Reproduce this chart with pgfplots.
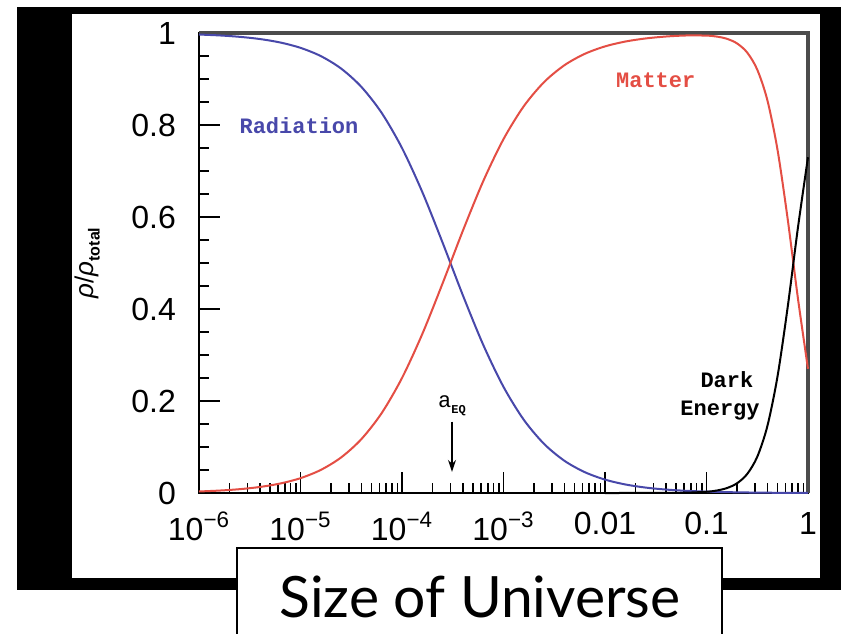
\documentclass[border=0pt]{standalone}
\usepackage{fontspec}
\usepackage{pgfplots}
\pgfplotsset{compat=1.18}
\usetikzlibrary{arrows.meta}
\setmainfont{Liberation Sans}
\newfontfamily\monob{Liberation Mono}
\newfontfamily\titlefont{Lato}
\definecolor{radblue}{RGB}{72,72,170}
\definecolor{matred}{RGB}{228,78,68}
\begin{document}
\begin{tikzpicture}
\useasboundingbox (0,0) rectangle (420.5pt,316.5pt);
\fill[white] (0,0) rectangle (420.5pt,316.5pt);
\fill[black] (8.5pt,21.5pt) rectangle (420.5pt,313pt);
\fill[white] (36pt,27.5pt) rectangle (410pt,309.5pt);
\begin{axis}[
  at={(99.5pt,70pt)}, anchor=south west,
  width=304.5pt, height=230pt, scale only axis,
  xmode=log, xmin=1e-6, xmax=1, ymin=0, ymax=1,
  clip=false,
  axis line style={black, line width=1.1pt},
  tick pos=left, tick align=inside,
  major tick length=10.5pt, minor tick length=5pt,
  every tick/.style={black, line width=0.8pt},
  xtick={1e-6,1e-5,1e-4,1e-3,0.01,0.1,1},
  xticklabels={10\textsuperscript{−6},10\textsuperscript{−5},10\textsuperscript{−4},10\textsuperscript{−3},0.01,0.1,1},
  ytick={0,0.2,0.4,0.6,0.8,1},
  yticklabels={0,0.2,0.4,0.6,0.8,1},
  minor ytick={0.05,0.1,0.15,0.25,0.3,0.35,0.45,0.5,0.55,0.65,0.7,0.75,0.85,0.9,0.95},
  tick label style={font=\fontsize{16pt}{18pt}\selectfont},
  xticklabel style={yshift=-6pt},
  yticklabel style={xshift=-8pt},
  ylabel={{\itshape ρ}/{\itshape ρ}\raisebox{-0.45ex}{\fontsize{8pt}{9pt}\selectfont\bfseries total}},
  ylabel style={font=\fontsize{13pt}{15pt}\selectfont, yshift=9pt},
]
\draw[black!70, line width=1.6pt] (rel axis cs:0,1) -- (rel axis cs:1,1) -- (rel axis cs:1,0);
\addplot[radblue, line width=1pt, smooth] coordinates {
(1e-6,0.99668) (1.585e-6,0.99474) (2.512e-6,0.99170) (3.981e-6,0.98690) (6.310e-6,0.97940)
(1e-5,0.96774) (1.585e-5,0.94982) (2.512e-5,0.92274) (3.981e-5,0.88285) (6.310e-5,0.82623)
(1e-4,0.75) (1.585e-4,0.65433) (2.512e-4,0.54427) (3.981e-4,0.42973) (6.310e-4,0.32225)
(1e-3,0.23077) (1.585e-3,0.15916) (2.512e-3,0.10669) (3.981e-3,0.07008) (6.310e-3,0.04539)
(0.01,0.02913) (0.01585,0.01858) (0.02512,0.01180) (0.03981,0.00748) (0.06310,0.00473)
(0.1,0.00298) (0.1585,0.00187) (0.2512,0.00114) (0.3981,0.00064) (0.6310,0.00028) (1,0.00008)
};
\addplot[matred, line width=1pt, smooth] coordinates {
(1e-6,0.00332) (1.585e-6,0.00526) (2.512e-6,0.00830) (3.981e-6,0.01310) (6.310e-6,0.02060)
(1e-5,0.03226) (1.585e-5,0.05018) (2.512e-5,0.07726) (3.981e-5,0.11715) (6.310e-5,0.17377)
(1e-4,0.25) (1.585e-4,0.34567) (2.512e-4,0.45573) (3.981e-4,0.57027) (6.310e-4,0.67775)
(1e-3,0.76923) (1.585e-3,0.84084) (2.512e-3,0.89331) (3.981e-3,0.92992) (6.310e-3,0.95461)
(0.01,0.97087) (0.01585,0.98141) (0.02512,0.98816) (0.03981,0.99235) (0.06310,0.99460)
(0.1,0.99433) (0.1259,0.99228) (0.1585,0.98750) (0.1995,0.97754) (0.2512,0.95781)
(0.3162,0.92043) (0.3981,0.85372) (0.5012,0.74573) (0.6310,0.59537) (0.7943,0.42455) (1,0.26998)
};
\addplot[black, line width=1pt, smooth] coordinates {
(0.01,0) (0.01585,0.00001) (0.02512,0.00004) (0.03981,0.00017) (0.06310,0.00068)
(0.1,0.00269) (0.1259,0.00535) (0.1585,0.01063) (0.1995,0.02099) (0.2512,0.04104)
(0.3162,0.07870) (0.3981,0.14564) (0.5012,0.25382) (0.6310,0.40434) (0.7943,0.57529) (1,0.72994)
};
\node[radblue, font=\monob\bfseries\fontsize{11pt}{12pt}\selectfont] at (axis cs:9.66e-6,0.798) {Radiation};
\node[matred, font=\monob\bfseries\fontsize{11pt}{12pt}\selectfont] at (axis cs:0.0316,0.898) {Matter};
\node[black, font=\monob\bfseries\fontsize{11pt}{12pt}\selectfont] at (axis cs:0.159,0.246) {Dark};
\node[black, font=\monob\bfseries\fontsize{11pt}{12pt}\selectfont] at (axis cs:0.136,0.180) {Energy};
\node[black, font=\monob\fontsize{11pt}{12pt}\selectfont] at (axis cs:3.11e-4,0.19) {a\raisebox{-0.5ex}{\fontsize{6pt}{7pt}\selectfont\bfseries EQ}};
\draw[black, line width=0.8pt, -{Stealth[length=6pt,width=4pt]}] (axis cs:3.11e-4,0.155) -- (axis cs:3.11e-4,0.046);
\end{axis}
\fill[white] (118.5pt,-3pt) rectangle (361pt,42.5pt);
\draw[black, line width=1pt] (118.5pt,-3pt) -- (118.5pt,42.5pt) -- (361pt,42.5pt) -- (361pt,-3pt);
\node[font=\titlefont\fontsize{28.5pt}{32pt}\selectfont] at (240pt,18pt) {Size of Universe};
\end{tikzpicture}
\end{document}
